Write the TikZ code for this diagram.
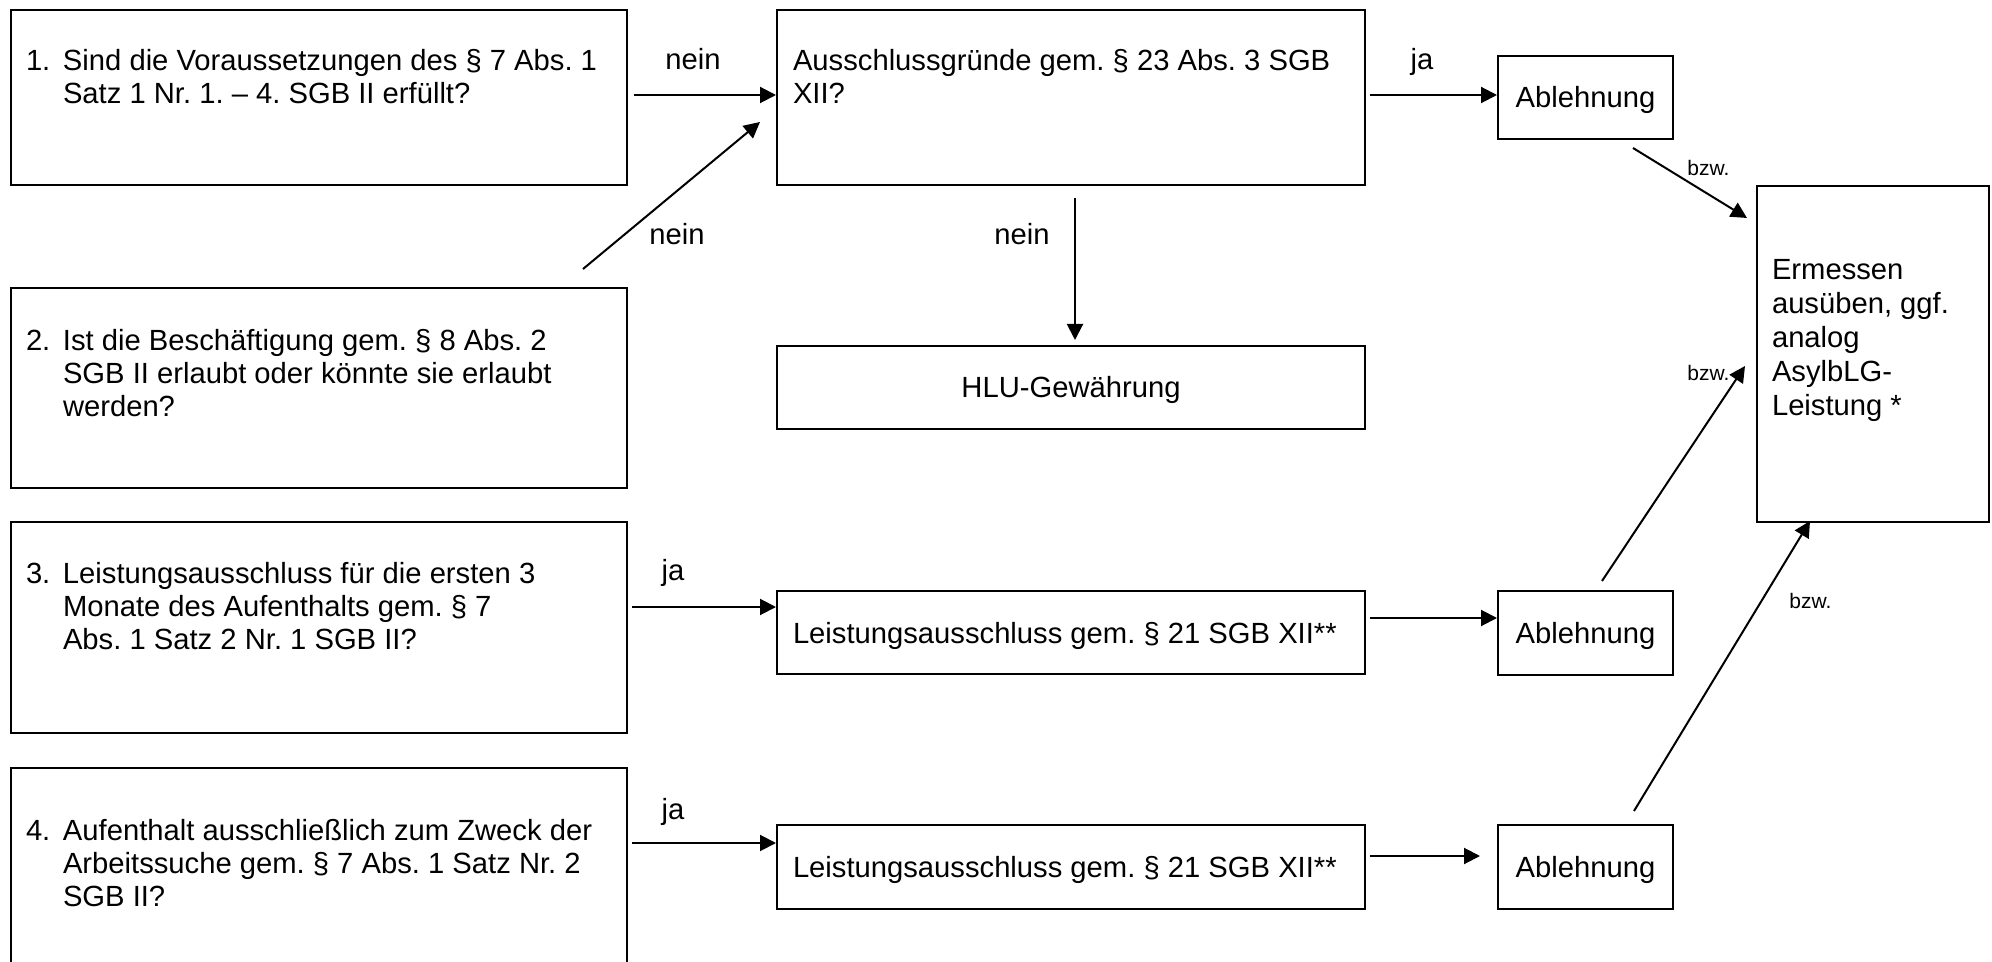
\documentclass[tikz,border=0pt]{standalone}
\usepackage{fontspec}
\setmainfont{Liberation Sans}
\usetikzlibrary{arrows.meta}
\frenchspacing
\newlength\px
\setlength\px{0.5pt}
\newcommand\mainfs{\fontsize{14.6pt}{16.5pt}\selectfont\frenchspacing}
\newcommand\qtext[4]{\parbox[t][#1\px][t]{616\px}{\mainfs\leftskip=15\px\relax\hangindent=37\px\relax\hangafter=1\relax\noindent\rule{0pt}{#2\px}\makebox[37\px][l]{#3}#4}}
\begin{document}
\begin{tikzpicture}[x=0.5pt,y=-0.5pt,
  box/.style={draw, line width=1pt, inner sep=0pt, anchor=north west},
  cbox/.style={box, font=\mainfs, text height=10.5pt, text depth=0pt},
  arr/.style={line width=1pt, -{Triangle[length=8pt,width=8pt]}},
  lbl/.style={anchor=base, inner sep=0pt, font=\mainfs},
  small/.style={anchor=base west, inner sep=0pt, font=\fontsize{10.5pt}{12pt}\selectfont}]
\fill[white] (0,0) rectangle (1992,962);
\useasboundingbox (0,0) rectangle (1992,962);

% question boxes
\node[box] (q1) at (10,9) {\qtext{175}{61}{1.}{Sind die Voraussetzungen des § 7 Abs. 1\\Satz 1 Nr. 1. – 4. SGB II erfüllt?}};
\node[box] (q2) at (10,287) {\qtext{200}{63}{2.}{Ist die Beschäftigung gem. § 8 Abs. 2\\SGB II erlaubt oder könnte sie erlaubt\\werden?}};
\node[box] (q3) at (10,521) {\qtext{211}{61}{3.}{Leistungsausschluss für die ersten 3\\Monate des Aufenthalts gem. § 7\\Abs. 1 Satz 2 Nr. 1 SGB II?}};
\node[box] (q4) at (10,767) {\qtext{205}{72}{4.}{Aufenthalt ausschließlich zum Zweck der\\Arbeitssuche gem. § 7 Abs. 1 Satz Nr. 2\\SGB II?}};

% middle column
\node[box] (A) at (776,9) {\parbox[t][175\px][t]{588\px}{\mainfs\leftskip=16\px\relax\noindent\rule{0pt}{61\px}Ausschlussgründe gem. § 23 Abs. 3 SGB\\XII?}};
\node[cbox, minimum width=294pt, minimum height=41.5pt] (H) at (776,345) {HLU-Gewährung};
\node[cbox, minimum width=294pt, minimum height=41.5pt, inner xsep=8pt] (L3) at (776,590) {\makebox[278pt][l]{Leistungsausschluss gem. § 21 SGB XII**}};
\node[cbox, minimum width=294pt, minimum height=42pt, inner xsep=8pt] (L4) at (776,824) {\makebox[278pt][l]{Leistungsausschluss gem. § 21 SGB XII**}};

% right column
\node[cbox, minimum width=87.5pt, minimum height=41.5pt] (R1) at (1497,55) {Ablehnung};
\node[cbox, minimum width=87.5pt, minimum height=42pt] (R2) at (1497,590) {Ablehnung};
\node[cbox, minimum width=87.5pt, minimum height=42pt] (R3) at (1497,824) {Ablehnung};
\node[box] (E) at (1756,185) {\parbox[t][336\px][t]{232\px}{\fontsize{14.6pt}{17pt}\selectfont\leftskip=15\px\relax\noindent\rule{0pt}{94\px}Ermessen\\ausüben, ggf.\\analog\\AsylbLG-\\Leistung *}};

% connectors
\draw[arr] ([shift={(3pt,1.25pt)}]q1.east) -- ([yshift=1.25pt]A.west);
\node[lbl] (ln1) at (693,70) {nein};
\coordinate (n2s) at (583,269);
\coordinate (n2e) at (760,122);
\draw[arr] (n2s) -- (n2e);
\node[lbl] (ln2) at (677,245) {nein};
\draw[arr] ([shift={(2pt,-6pt)}]A.south) -- ([shift={(2pt,2.5pt)}]H.north);
\node[lbl] (ln3) at (1022,245) {nein};
\draw[arr] ([shift={(2pt,1.25pt)}]A.east) -- ([yshift=1.25pt]R1.west);
\node[lbl] (lj1) at (1422,70) {ja};

\coordinate (b1s) at (1633,148);
\coordinate (b1e) at (1747,218);
\draw[arr] (b1s) -- (b1e);
\node[small] (lb1) at (1687,176) {bzw.};

\coordinate (y3) at (700,607);
\draw[arr, shorten <=2pt] (q3.east |- y3) -- (L3.west |- y3);
\node[lbl] (lj3) at (673,581) {ja};
\coordinate (y4) at (700,843);
\draw[arr, shorten <=2pt] (q4.east |- y4) -- (L4.west |- y4);
\node[lbl] (lj4) at (673,819) {ja};

\coordinate (y5) at (1400,618);
\draw[arr, shorten <=2pt] (L3.east |- y5) -- (R2.west |- y5);
\coordinate (y6) at (1400,856);
\draw[arr, shorten <=2pt, shorten >=8.5pt] (L4.east |- y6) -- (R3.west |- y6);

\coordinate (b2s) at (1602,581);
\coordinate (b2e) at (1745,366);
\draw[arr] (b2s) -- (b2e);
\node[small] (lb2) at (1687,381) {bzw.};
\coordinate (b3s) at (1634,811);
\coordinate (b3e) at (1810,521);
\draw[arr] (b3s) -- (b3e);
\node[small] (lb3) at (1789,608) {bzw.};
\end{tikzpicture}
\end{document}
